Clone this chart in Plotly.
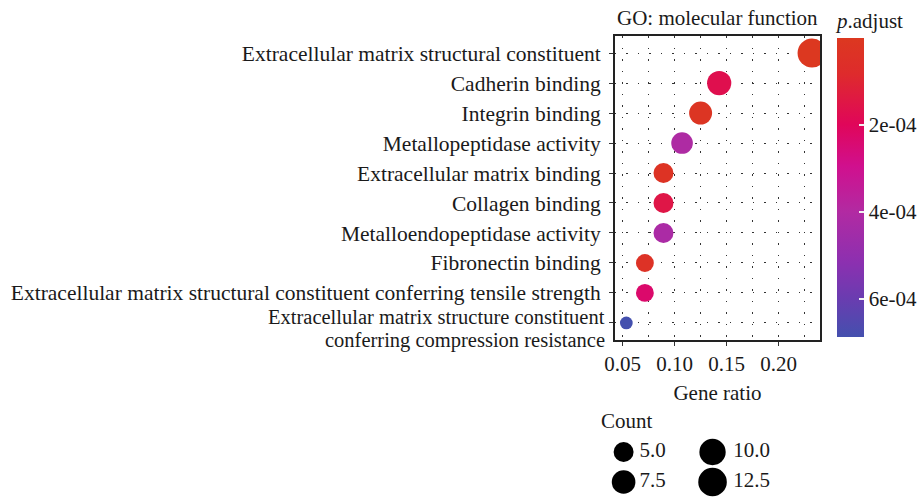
import numpy as np
import plotly.graph_objects as go

# GO molecular function enrichment (top to bottom)
terms = [
    "Extracellular matrix structural constituent",
    "Cadherin binding",
    "Integrin binding",
    "Metallopeptidase activity",
    "Extracellular matrix binding",
    "Collagen binding",
    "Metalloendopeptidase activity",
    "Fibronectin binding",
    "Extracellular matrix structural constituent conferring tensile strength",
    "Extracellular matrix structure constituent<br>conferring compression resistance",
]
counts = [13, 8, 7, 6, 5, 5, 5, 4, 4, 3]
gene_ratio = [13 / 56, 8 / 56, 7 / 56, 6 / 56, 5 / 56, 5 / 56, 5 / 56, 4 / 56, 4 / 56, 3 / 56]
p_adjust = [2.6e-8, 1.7e-4, 0.2e-4, 4.1e-4, 0.3e-4, 1.5e-4, 4.2e-4, 0.4e-4, 2.3e-4, 6.87e-4]

x_ticks = [0.05, 0.10, 0.15, 0.20]
x_tick_text = ["0.05", "0.10", "0.15", "0.20"]
cbar_ticks = [2e-4, 4e-4, 6e-4]
cbar_tick_text = ["2e-04", "4e-04", "6e-04"]
legend_counts = [5.0, 7.5, 10.0, 12.5]
legend_text = ["5.0", "7.5", "10.0", "12.5"]

FONT = "Liberation Serif"
FS = 21
FS_CAT = 21.5
TXT = "#1a1a1a"
W, H = 923, 497

cmin, cmax = min(counts), max(counts)
p_max = 6.87e-4


def dot_size(c):
    """Area-style size scale: diameter grows with sqrt of the rescaled count."""
    frac = (np.asarray(c, dtype=float) - cmin) / (cmax - cmin)
    return 12.7 + 16.3 * np.sqrt(np.clip(frac, 0, None))


# red (small p.adjust) -> blue (large p.adjust); the bar runs with small values on top,
# so colours are keyed on -p.adjust
stops = [
    (0.00, "#DC3820"),
    (0.12, "#DE2B2C"),
    (0.29, "#E0065A"),
    (0.43, "#D0108E"),
    (0.58, "#B22AA2"),
    (0.75, "#8C30B0"),
    (0.87, "#6A3CB0"),
    (1.00, "#4450AE"),
]
colorscale = sorted([[1 - s, c] for s, c in stops])

n = len(terms)
y_pos = list(range(n - 1, -1, -1))
y_range = [-0.57, 9.57]

# multi-line category names are set as stacked annotations (tighter leading)
tick_text = [t if "<br>" not in t else "" for t in terms]

# panel placement in pixels
px_l, px_r, px_t, px_b = 612, 820, 36, 340
bar_t, bar_b, bar_l, bar_w = 34, 337, 837, 27
title_h = 25


def row_to_px(v):
    return px_t + (y_range[1] - v) / (y_range[1] - y_range[0]) * (px_b - px_t)


fig = go.Figure()

fig.add_trace(go.Scatter(
    x=gene_ratio, y=y_pos, mode="markers",
    marker=dict(
        size=dot_size(counts), sizemode="diameter",
        color=[-p for p in p_adjust], colorscale=colorscale, cmin=-p_max, cmax=0,
        line=dict(width=0), opacity=1,
        colorbar=dict(
            title=dict(text="<i>p</i>.adjust", side="top",
                       font=dict(family=FONT, size=FS, color=TXT)),
            tickvals=[-t for t in cbar_ticks], ticktext=cbar_tick_text,
            ticks="inside", ticklen=5, tickcolor="#f2f2f2", tickwidth=1.5,
            tickfont=dict(family=FONT, size=FS, color=TXT),
            outlinewidth=0, thickness=bar_w,
            lenmode="pixels", len=(bar_b - bar_t) + title_h,
            x=bar_l / W, xanchor="left", xpad=0,
            y=1 - (bar_t - title_h) / H, yanchor="top", ypad=0,
        ),
    ),
    showlegend=False, hoverinfo="skip",
))

# size key for Count, drawn on an overlay axis measured in pixels
key_x = [621, 621, 711, 711]
key_y = [452, 482, 452, 482]
fig.add_trace(go.Scatter(
    x=key_x, y=key_y, mode="markers",
    marker=dict(size=dot_size(legend_counts), sizemode="diameter", color="black",
                line=dict(width=0), opacity=1),
    xaxis="x2", yaxis="y2", showlegend=False, hoverinfo="skip",
))
fig.add_trace(go.Scatter(
    x=[637, 637, 732, 732], y=key_y, mode="text", text=legend_text,
    textposition="middle right",
    textfont=dict(family=FONT, size=FS, color=TXT),
    xaxis="x2", yaxis="y2", showlegend=False, hoverinfo="skip",
))

# left-edge tick marks on the colour bar
shapes = []
for t in cbar_ticks:
    yy = 1 - (bar_t + (bar_b - bar_t) * t / p_max) / H
    shapes.append(dict(type="line", xref="paper", yref="paper",
                       x0=bar_l / W, x1=(bar_l + 5) / W, y0=yy, y1=yy,
                       line=dict(color="#f2f2f2", width=1.5)))

annotations = [
    dict(text="GO: molecular function", x=(px_l + px_r) / 2 / W, y=1 - 18 / H,
         xref="paper", yref="paper", xanchor="center", yanchor="middle",
         showarrow=False, font=dict(family=FONT, size=FS, color=TXT)),
    dict(text="Count", x=596 / W, y=1 - 421 / H, xref="paper", yref="paper",
         xanchor="left", yanchor="middle", showarrow=False,
         font=dict(family=FONT, size=FS, color=TXT)),
]
for t, yp in zip(terms, y_pos):
    if "<br>" in t:
        lines = t.split("<br>")
        for k, line in enumerate(lines):
            off_px = (k - (len(lines) - 1) / 2) * 24 + 6
            annotations.append(dict(
                text=line, x=603 / W, xref="paper",
                y=1 - (row_to_px(yp) + off_px) / H, yref="paper",
                xanchor="right", yanchor="middle", showarrow=False, borderpad=0,
                font=dict(family=FONT, size=20.5, color=TXT)))

grid_dash = "1.5px,10px"
fig.update_layout(
    width=W, height=H,
    margin=dict(l=0, r=0, t=0, b=0),
    paper_bgcolor="white", plot_bgcolor="rgba(0,0,0,0)",
    font=dict(family=FONT, size=FS, color=TXT),
    xaxis=dict(
        domain=[px_l / W, px_r / W], range=[0.0424, 0.240],
        tickvals=x_ticks, ticktext=x_tick_text,
        ticks="outside", ticklen=4, tickcolor="#333", tickwidth=1.2,
        showline=True, linecolor="#222", linewidth=1.5, mirror=True,
        showgrid=True, gridcolor="#333", gridwidth=1.3, griddash=grid_dash,
        minor=dict(dtick=0.025, tick0=0.025, showgrid=True, gridcolor="#333",
                   gridwidth=1.3, griddash=grid_dash, ticks=""),
        zeroline=False,
        title=dict(text="Gene ratio", font=dict(family=FONT, size=FS), standoff=10),
        tickfont=dict(family=FONT, size=FS, color=TXT),
    ),
    yaxis=dict(
        domain=[1 - px_b / H, 1 - px_t / H], range=y_range,
        tickvals=y_pos, ticktext=tick_text,
        ticks="outside", ticklen=4, tickcolor="#333", tickwidth=1.2,
        ticklabelstandoff=4,
        showline=True, linecolor="#222", linewidth=1.5, mirror=True,
        showgrid=True, gridcolor="#333", gridwidth=1.3, griddash=grid_dash,
        zeroline=False, automargin=False,
        tickfont=dict(family=FONT, size=FS_CAT, color=TXT),
    ),
    xaxis2=dict(domain=[0, 1], range=[0, W], visible=False, fixedrange=True, anchor="y2"),
    yaxis2=dict(domain=[0, 1], range=[H, 0], visible=False, fixedrange=True, anchor="x2"),
    shapes=shapes,
    annotations=annotations,
)

fig.write_html("out.html")
